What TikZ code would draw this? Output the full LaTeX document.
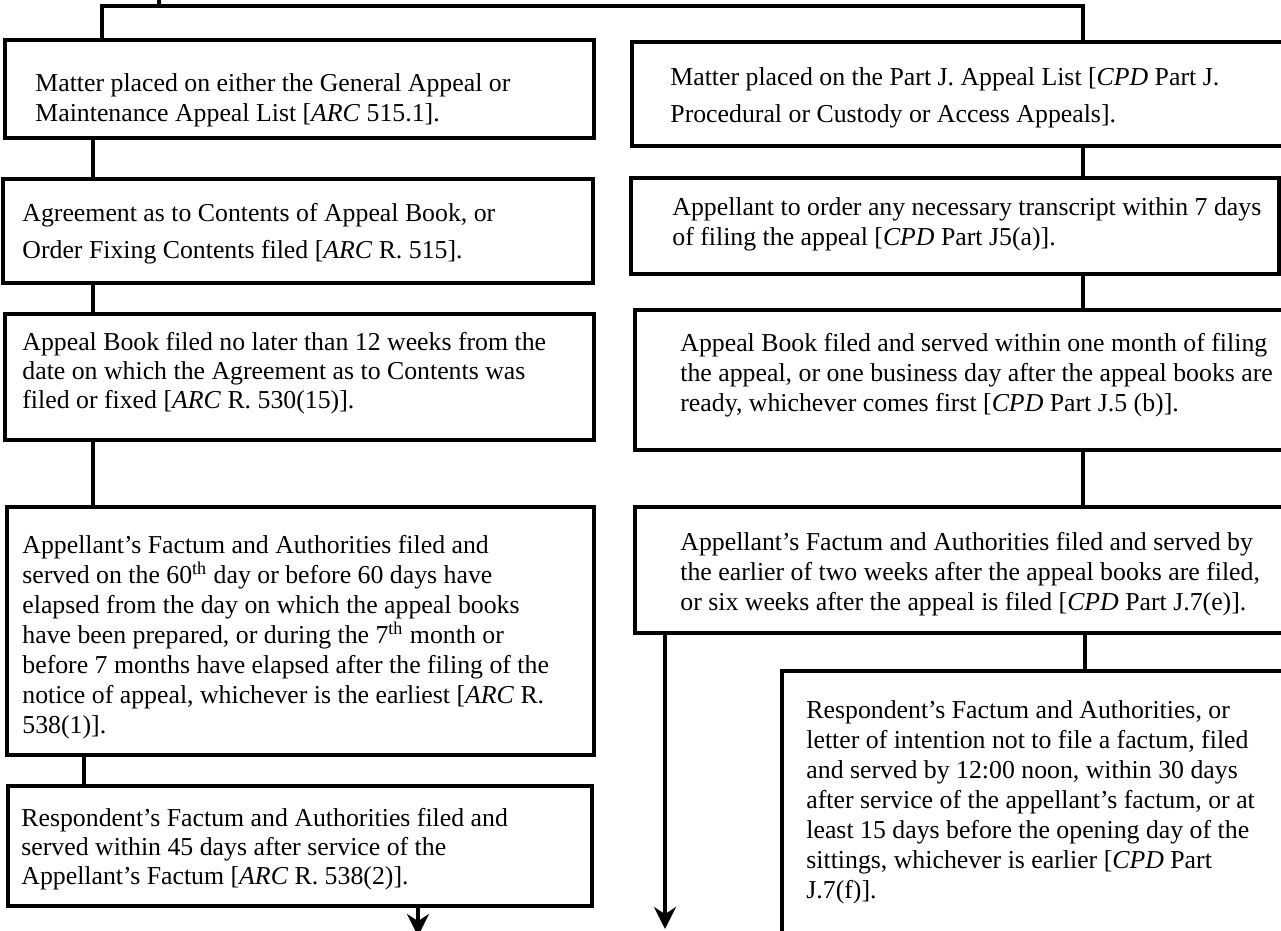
\documentclass[tikz,border=0pt]{standalone}
\usepackage{fontspec}
\setmainfont{Liberation Serif}
\usetikzlibrary{fit,arrows.meta}

\begin{document}
\begin{tikzpicture}[x=0.5pt, y=-0.5pt,
	box/.style={draw, line width=1.7pt, inner sep=0pt},
	link/.style={line width=2pt},
	down/.style={line width=1.8pt, -{Stealth[length=11pt,width=11pt]}},
	txt/.style={anchor=base west, inner sep=0pt, font=\fontsize{12.9}{15}\selectfont},
	txttight/.style={txt, font=\fontsize{12.9}{14.5}\selectfont},
	txtwide/.style={txt, font=\fontsize{12.9}{18.5}\selectfont}]
	\clip (0,0) rectangle (1281,931);
	\useasboundingbox (0,0) rectangle (1281,931);

	% left column
	\node[box, fit={(5,40) (594,138)}] (L1) {};
	\node[box, fit={(3,179) (593,283)}] (L2) {};
	\node[box, fit={(5,314) (594,440)}] (L3) {};
	\node[box, fit={(7,507) (594,755)}] (L4) {};
	\node[box, fit={(8,786) (592,906)}] (L5) {};

	\node[txt] (tL1) at (35,92) {\parbox[t]{340pt}{\raggedright
		Matter placed on either the General Appeal or\\
		Maintenance Appeal List [\textit{ARC} 515.1].}};
	\node[txtwide] (tL2) at (22,221) {\parbox[t]{340pt}{\raggedright
		Agreement as to Contents of Appeal Book, or\\
		Order Fixing Contents filed [\textit{ARC} R. 515].}};
	\node[txttight] (tL3) at (22,350) {\parbox[t]{340pt}{\raggedright
		Appeal Book filed no later than 12 weeks from the\\
		date on which the Agreement as to Contents was\\
		filed or fixed [\textit{ARC} R. 530(15)].}};
	\node[txt] (tL4) at (22,553) {\parbox[t]{340pt}{\raggedright
		Appellant's Factum and Authorities filed and\\
		served on the 60\textsuperscript{th} day or before 60 days have\\
		elapsed from the day on which the appeal books\\
		have been prepared, or during the 7\textsuperscript{th} month or\\
		before 7 months have elapsed after the filing of the\\
		notice of appeal, whichever is the earliest [\textit{ARC} R.\\
		538(1)].}};
	\node[txttight] (tL5) at (21,826) {\parbox[t]{340pt}{\raggedright
		Respondent's Factum and Authorities filed and\\
		served within 45 days after service of the\\
		Appellant's Factum [\textit{ARC} R. 538(2)].}};

	% right column
	\node[box, fit={(632,42) (1300,146)}] (R1) {};
	\node[box, fit={(631,178) (1279,274)}] (R2) {};
	\node[box, fit={(635,310) (1300,450)}] (R3) {};
	\node[box, fit={(635,507) (1300,633)}] (R4) {};
	\node[box, fit={(782,671) (1300,1000)}] (R5) {};

	\node[txtwide] (tR1) at (670,86) {\parbox[t]{340pt}{\raggedright
		Matter placed on the Part J. Appeal List [\textit{CPD} Part J.\\
		Procedural or Custody or Access Appeals].}};
	\node[txttight] (tR2) at (672,216) {\parbox[t]{340pt}{\raggedright
		Appellant to order any necessary transcript within 7 days\\
		of filing the appeal [\textit{CPD} Part J5(a)].}};
	\node[txt] (tR3) at (680,351) {\parbox[t]{340pt}{\raggedright
		Appeal Book filed and served within one month of filing\\
		the appeal, or one business day after the appeal books are\\
		ready, whichever comes first [\textit{CPD} Part J.5 (b)].}};
	\node[txt] (tR4) at (680,550) {\parbox[t]{340pt}{\raggedright
		Appellant's Factum and Authorities filed and served by\\
		the earlier of two weeks after the appeal books are filed,\\
		or six weeks after the appeal is filed [\textit{CPD} Part J.7(e)].}};
	\node[txt] (tR5) at (806,718) {\parbox[t]{340pt}{\raggedright
		Respondent's Factum and Authorities, or\\
		letter of intention not to file a factum, filed\\
		and served by 12:00 noon, within 30 days\\
		after service of the appellant's factum, or at\\
		least 15 days before the opening day of the\\
		sittings, whichever is earlier [\textit{CPD} Part\\
		J.7(f)].}};

	% top bus
	\coordinate (top) at (159,0);
	\coordinate (busL) at (102,6);
	\coordinate (busR) at (1083,6);
	\draw[link] (top) -- (top |- busL);
	\draw[link] (L1.north -| busL) -- (busL) -- (busR) -- (R1.north -| busR);

	% connectors
	\coordinate (cL) at (93,0);
	\coordinate (cL5) at (84,0);
	\coordinate (cR) at (1083,0);
	\coordinate (cR5) at (1085,0);
	\draw[link] (L1.south -| cL) -- (L2.north -| cL);
	\draw[link] (L2.south -| cL) -- (L3.north -| cL);
	\draw[link] (L3.south -| cL) -- (L4.north -| cL);
	\draw[link] (L4.south -| cL5) -- (L5.north -| cL5);
	\draw[link] (R1.south -| cR) -- (R2.north -| cR);
	\draw[link] (R2.south -| cR) -- (R3.north -| cR);
	\draw[link] (R3.south -| cR) -- (R4.north -| cR);
	\draw[link] (R4.south -| cR5) -- (R5.north -| cR5);

	% arrows out
	\coordinate (endL) at (418,936);
	\coordinate (endR) at (665,929);
	\draw[down] (L5.south -| endL) -- (endL);
	\draw[down] (R4.south -| endR) -- (endR);
\end{tikzpicture}
\end{document}
